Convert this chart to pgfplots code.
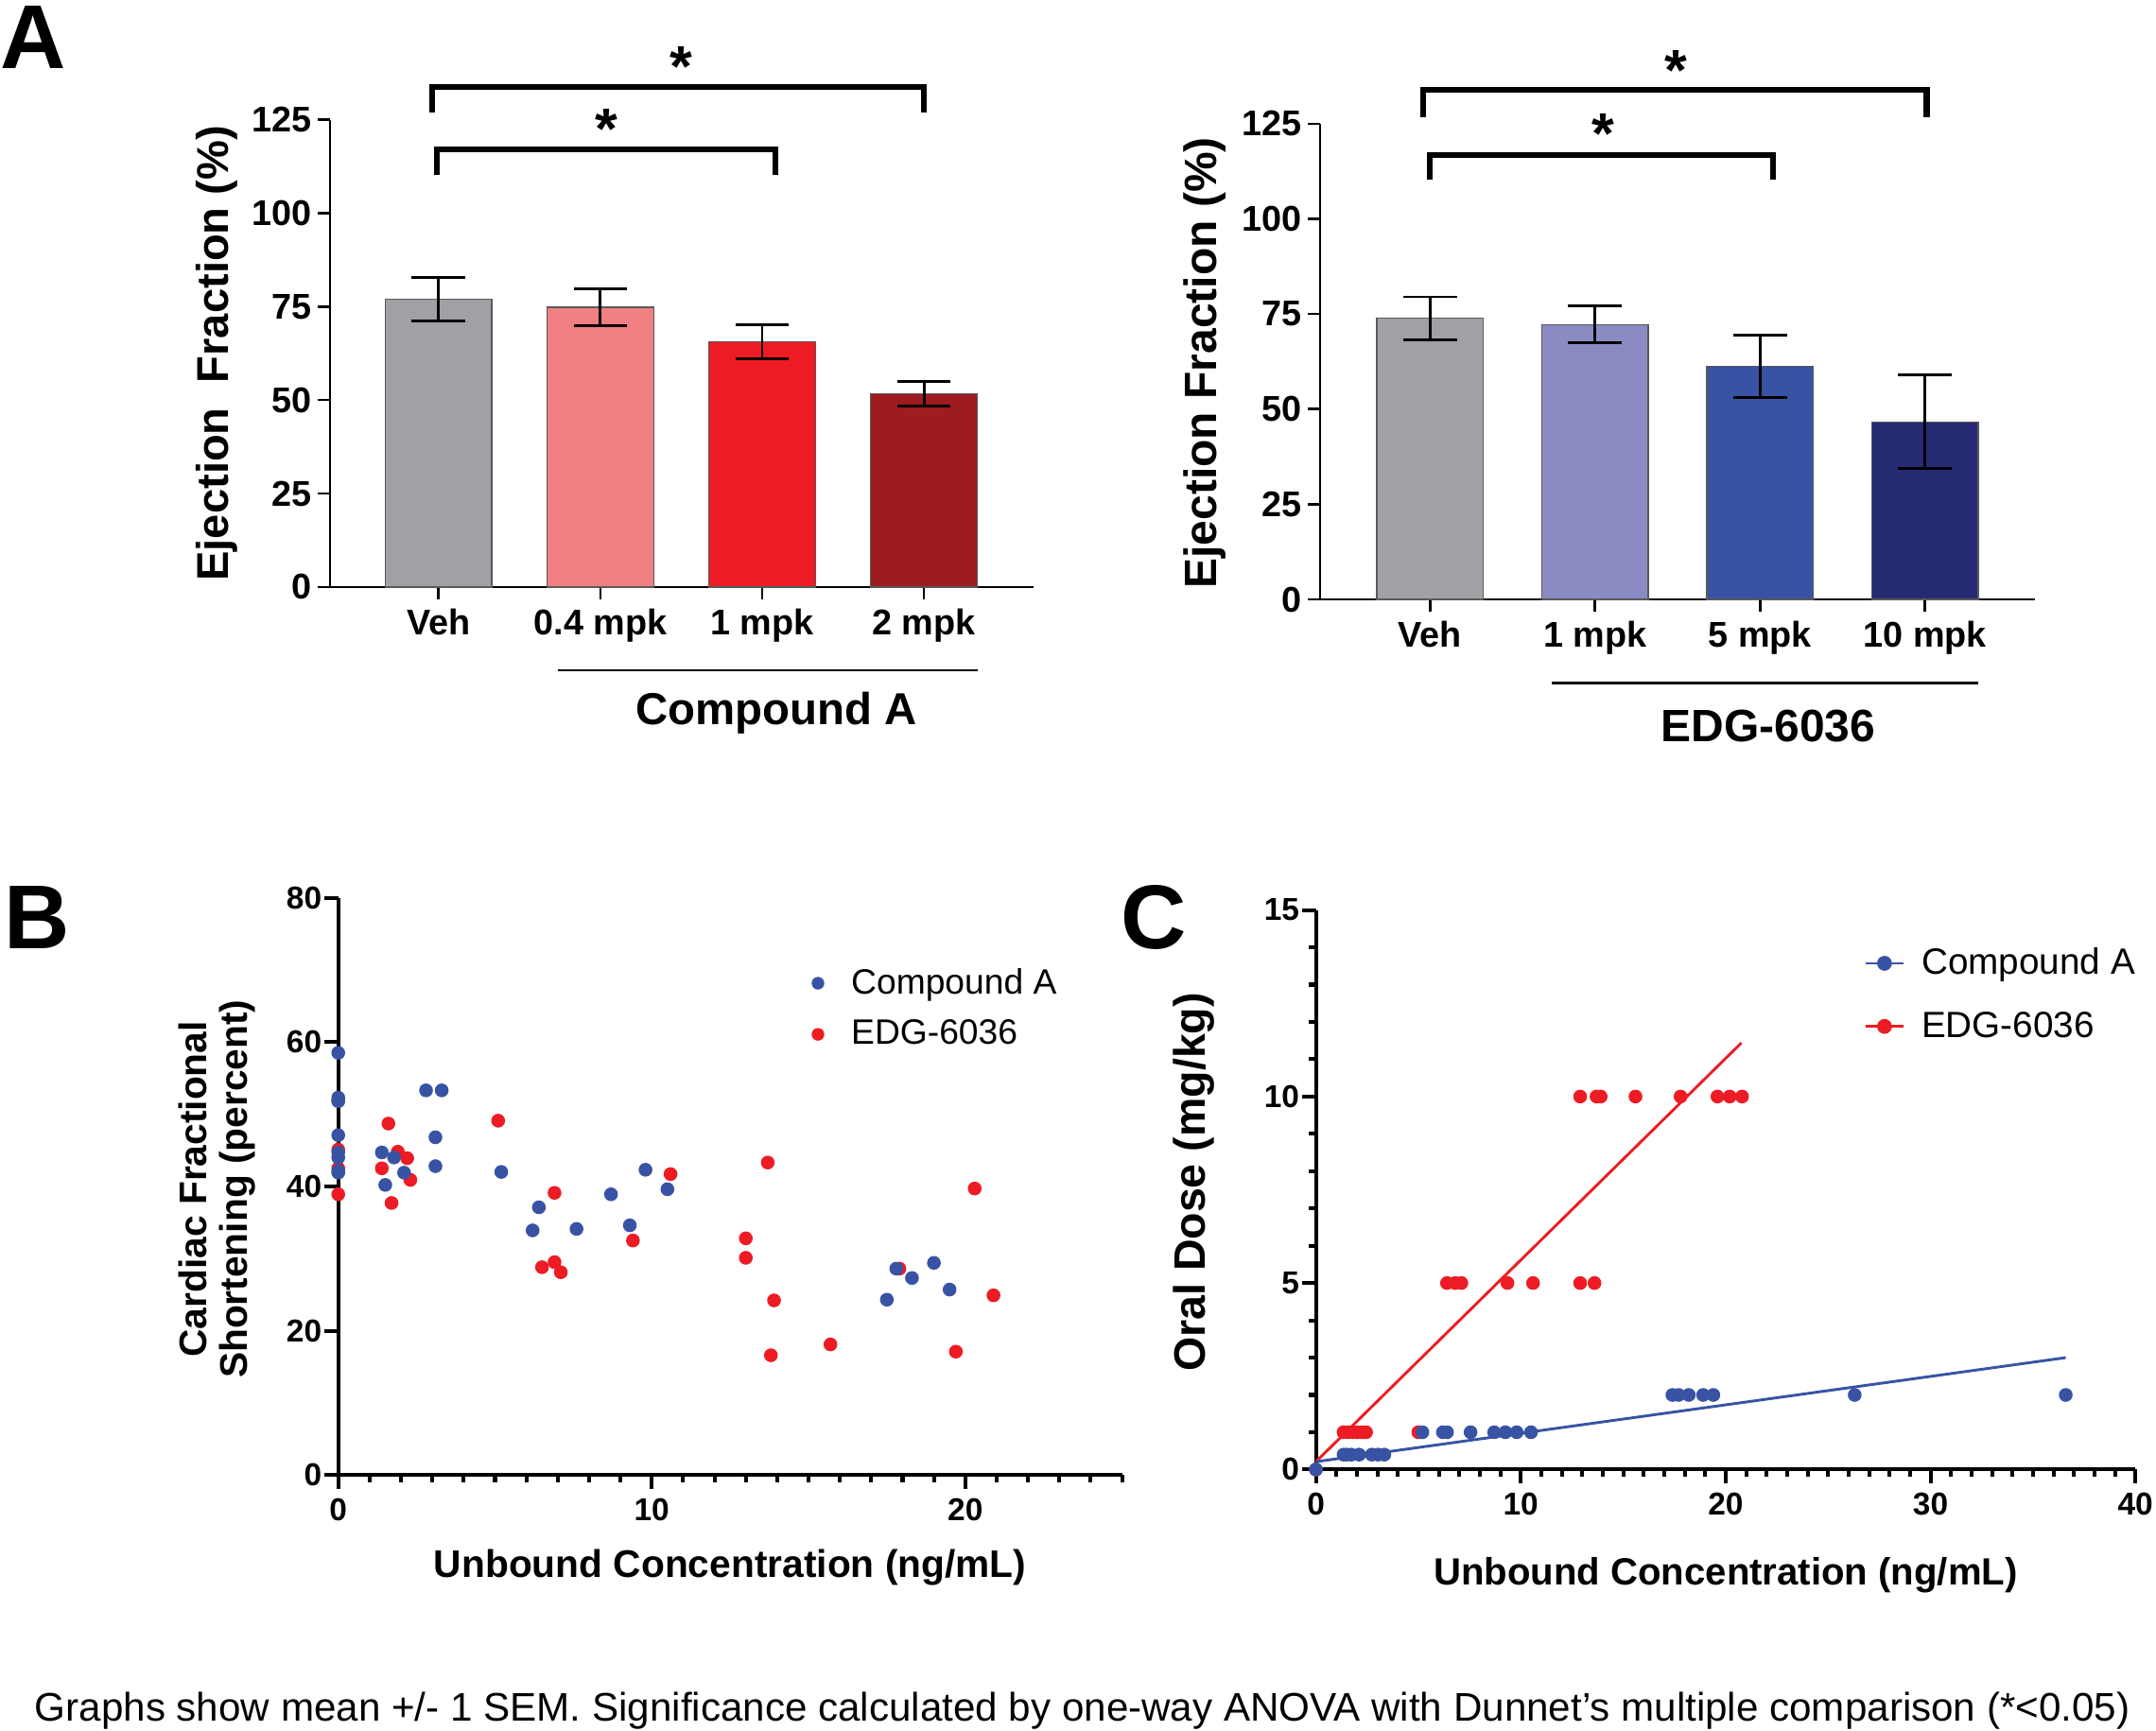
\documentclass[border=0pt]{standalone}
\usepackage{fontspec}
\setmainfont{Liberation Sans}
\usepackage{pgfplots}
\pgfplotsset{compat=1.18}
\definecolor{cblue}{HTML}{3953A4}
\definecolor{cred}{HTML}{ED1C24}
\definecolor{cgrey}{HTML}{A0A1A5}
\definecolor{cpink}{HTML}{F27F82}
\definecolor{cdred}{HTML}{9E1C20}
\definecolor{clav}{HTML}{8A8BC3}
\definecolor{cnavy}{HTML}{262A72}
\newcommand\fs[1]{\fontsize{#1}{#1}\selectfont}
\pgfplotsset{
  barA/.style={
    scale only axis, axis x line=bottom, axis y line=left,
    axis line style={-, line width=0.9pt},
    ymin=0, ymax=125, ytick={0,25,50,75,100,125},
    xtick={0,1,2,3}, tick align=outside, major tick length=4.5pt,
    tick style={black, line width=0.9pt},
    /pgf/number format/assume math mode=true,
    tick label style={font=\bfseries\fs{13}},
    yticklabel style={xshift=1.5pt},
    clip=false,
  },
  eb/.style={
    error bars/y dir=both, error bars/y explicit,
    error bars/error bar style={line width=1pt,black},
    error bars/error mark options={rotate=90, mark size=9.75pt, line width=1pt, black},
  },
  bb/.style={ybar, bar shift=0pt, bar width=38.75pt, fill=#1, draw=black!65, line width=0.5pt, eb},
  scat/.style={
    scale only axis, axis x line=bottom, axis y line=left,
    axis line style={-, line width=1.4pt},
    tick align=outside, major tick length=5pt, minor tick length=2.5pt,
    tick style={black, line width=1.4pt},
    /pgf/number format/assume math mode=true,
    tick label style={font=\bfseries\fs{11.5}},
    yticklabel style={xshift=2.5pt},
    clip=false,
  },
  dots/.style={only marks, mark=*, mark size=2.3pt, color=#1, forget plot},
}
\pgfplotstableread{
x y
0 51.9
0 45.1
0 42.5
0 38.9
1.6 48.7
1.9 44.8
2.2 43.9
1.39 42.5
2.3 40.9
1.7 37.7
5.1 49.1
6.9 39.1
6.5 28.8
6.9 29.5
7.1 28.1
9.4 32.5
10.6 41.7
13.7 43.3
20.3 39.7
13.0 32.8
13.0 30.1
17.9 28.6
20.9 24.9
13.9 24.2
15.7 18.1
13.8 16.6
19.7 17.1
}\Bred
\pgfplotstableread{
x y
0 58.5
0 52.3
0 51.8
0 47.1
0 44.7
0 44.0
0 42.1
0 41.9
1.39 44.7
1.78 44.0
2.1 41.9
1.5 40.2
2.8 53.3
3.3 53.3
3.1 46.8
3.1 42.8
5.2 42.0
6.4 37.1
6.2 33.9
7.6 34.1
8.7 38.9
9.3 34.6
9.8 42.3
10.5 39.6
17.8 28.6
19.0 29.4
18.3 27.3
19.5 25.7
17.5 24.3
}\Bblue
\pgfplotstableread{
x y
0 0
1.35 1
1.58 1
1.81 1
2.04 1
2.27 1
2.45 1
5.0 1
6.4 5
6.8 5
7.1 5
9.35 5
10.6 5
12.9 5
13.6 5
12.9 10
13.7 10
13.9 10
15.6 10
17.8 10
19.6 10
20.2 10
20.8 10
}\Cred
\pgfplotstableread{
x y
0 0
1.35 0.4
1.5 0.4
1.73 0.4
2.11 0.4
2.73 0.4
3.03 0.4
3.34 0.4
5.2 1
6.2 1
6.4 1
7.55 1
8.7 1
9.25 1
9.8 1
10.5 1
17.4 2
17.7 2
18.2 2
18.9 2
19.4 2
26.3 2
36.6 2
}\Cblue
\begin{document}
\begin{tikzpicture}
\useasboundingbox (0,0) rectangle (784pt,-629.5pt);

% ---------- Panel A left ----------
\begin{axis}[barA, at={(120pt,-213.5pt)}, anchor=south west, width=256pt, height=170pt,
  xmin=-0.671, xmax=3.68, xticklabels={Veh,0.4 mpk,1 mpk,2 mpk}]
\addplot[bb=cgrey] coordinates {(0,77.0) +- (0,5.8)};
\addplot[bb=cpink] coordinates {(1,74.8) +- (0,5.0)};
\addplot[bb=cred] coordinates {(2,65.6) +- (0,4.6)};
\addplot[bb=cdred] coordinates {(3,51.7) +- (0,3.3)};
\draw[line width=2.1pt, line join=miter] (axis cs:-0.01,110.1) -- (axis cs:-0.01,117) -- (axis cs:2.08,117) -- (axis cs:2.08,110.1);
\draw[line width=2.1pt, line join=miter] (axis cs:-0.04,127) -- (axis cs:-0.04,133.7) -- (axis cs:3.0,133.7) -- (axis cs:3.0,127);
\node[anchor=base, yshift=-9.8pt, font=\bfseries\fs{21}, inner sep=0pt] at (axis cs:1.04,124.4) {*};
\node[anchor=base, yshift=-9.8pt, font=\bfseries\fs{21}, inner sep=0pt] at (axis cs:1.5,141) {*};
\draw[line width=0.8pt] (axis cs:0.74,-22.3) -- (axis cs:3.33,-22.3);
\node[font=\bfseries\fs{16.3}] at (axis cs:2.09,-33.8) {Compound A};
\end{axis}

% ---------- Panel A right ----------
\begin{axis}[barA, at={(480pt,-218pt)}, anchor=south west, width=260pt, height=173pt,
  xmin=-0.667, xmax=3.667, xticklabels={Veh,1 mpk,5 mpk,10 mpk}]
\addplot[bb=cgrey] coordinates {(0,73.9) +- (0,5.6)};
\addplot[bb=clav] coordinates {(1,72.2) +- (0,4.85)};
\addplot[bb=cblue] coordinates {(2,61.2) +- (0,8.2)};
\addplot[bb=cnavy] coordinates {(3,46.6) +- (0,12.3)};
\draw[line width=2.1pt, line join=miter] (axis cs:0,110.2) -- (axis cs:0,116.8) -- (axis cs:2.08,116.8) -- (axis cs:2.08,110.2);
\draw[line width=2.1pt, line join=miter] (axis cs:-0.04,126.6) -- (axis cs:-0.04,133.9) -- (axis cs:3.01,133.9) -- (axis cs:3.01,126.6);
\node[anchor=base, yshift=-9.8pt, font=\bfseries\fs{21}, inner sep=0pt] at (axis cs:1.05,124.1) {*};
\node[anchor=base, yshift=-9.8pt, font=\bfseries\fs{21}, inner sep=0pt] at (axis cs:1.49,140.9) {*};
\draw[line width=0.8pt] (axis cs:0.74,-22) -- (axis cs:3.32,-22);
\node[font=\bfseries\fs{16.5}] at (axis cs:2.05,-33.2) {EDG-6036};
\end{axis}

% ---------- Panel B ----------
\begin{axis}[scat, at={(123pt,-536.5pt)}, anchor=south west, width=285pt, height=210pt,
  xmin=0, xmax=25, ymin=0, ymax=80, xtick={0,10,20}, minor xtick={1,...,25},
  ytick={0,20,40,60,80},
  legend style={at={(rel axis cs:0.604,0.888)}, anchor=north west, draw=none, fill=none,
    font=\fs{12.8}, row sep=4pt, column sep=8pt, inner sep=0pt}, legend cell align=left]
\addlegendimage{only marks, mark=*, mark size=2.1pt, color=cblue}
\addlegendentry{Compound A}
\addlegendimage{only marks, mark=*, mark size=2.1pt, color=cred}
\addlegendentry{EDG-6036}
\addplot[dots=cred] table[x=x,y=y] {\Bred};
\addplot[dots=cblue] table[x=x,y=y] {\Bblue};
\end{axis}

% ---------- Panel C ----------
\begin{axis}[scat, at={(478.5pt,-534.5pt)}, anchor=south west, width=298pt, height=203.5pt,
  xmin=0, xmax=40, ymin=0, ymax=15, xtick={0,10,20,30,40}, minor xtick={1,...,40},
  ytick={0,5,10,15}, minor ytick={1,...,15},
  legend image code/.code={\draw[mark repeat=2,mark phase=2,#1] plot coordinates {(0pt,0pt) (7pt,0pt) (14pt,0pt)};},
  legend style={at={(rel axis cs:0.668,0.943)}, anchor=north west, draw=none, fill=none,
    font=\fs{13.3}, row sep=8pt, column sep=4pt, inner sep=0pt}, legend cell align=left]
\addlegendimage{cblue, line width=1pt, mark=*, mark size=2.2pt}
\addlegendentry{Compound A}
\addlegendimage{cred, line width=1pt, mark=*, mark size=2.2pt}
\addlegendentry{EDG-6036}
\addplot[cred, line width=1pt, forget plot] coordinates {(0,0.21) (20.77,11.44)};
\addplot[cblue, line width=1pt, forget plot] coordinates {(0,0.21) (36.6,3.0)};
\addplot[dots=cred] table[x=x,y=y] {\Cred};
\addplot[dots=cblue] table[x=x,y=y] {\Cblue};
\end{axis}

% ---------- Labels ----------
\node[anchor=base west, inner sep=0pt, font=\bfseries\fs{33}] at (0pt,-25pt) {A};
\node[anchor=base west, inner sep=0pt, font=\bfseries\fs{33}] at (1.5pt,-345pt) {B};
\node[anchor=base west, inner sep=0pt, font=\bfseries\fs{33}] at (407.5pt,-345pt) {C};
\node[rotate=90, font=\bfseries\fs{16.2}] at (79pt,-128.5pt) {Ejection\ \ Fraction (\%)};
\node[rotate=90, font=\bfseries\fs{16.5}] at (438.25pt,-132pt) {Ejection Fraction (\%)};
\node[rotate=90, font=\bfseries\fs{14}, align=center] at (79pt,-432.5pt) {Cardiac Fractional\\[1pt]Shortening (percent)};
\node[font=\bfseries\fs{14}] at (265.5pt,-570pt) {Unbound Concentration (ng/mL)};
\node[font=\bfseries\fs{13.8}] at (627.5pt,-573pt) {Unbound Concentration (ng/mL)};
\node[rotate=90, font=\bfseries\fs{16}] at (434pt,-430pt) {Oral Dose (mg/kg)};
\node[anchor=base west, inner sep=0pt, font=\fs{14.5}] at (12.5pt,-626pt) {Graphs show mean +/- 1 SEM. Significance calculated by one-way ANOVA with Dunnet’s multiple comparison (*<0.05)};
\end{tikzpicture}
\end{document}
